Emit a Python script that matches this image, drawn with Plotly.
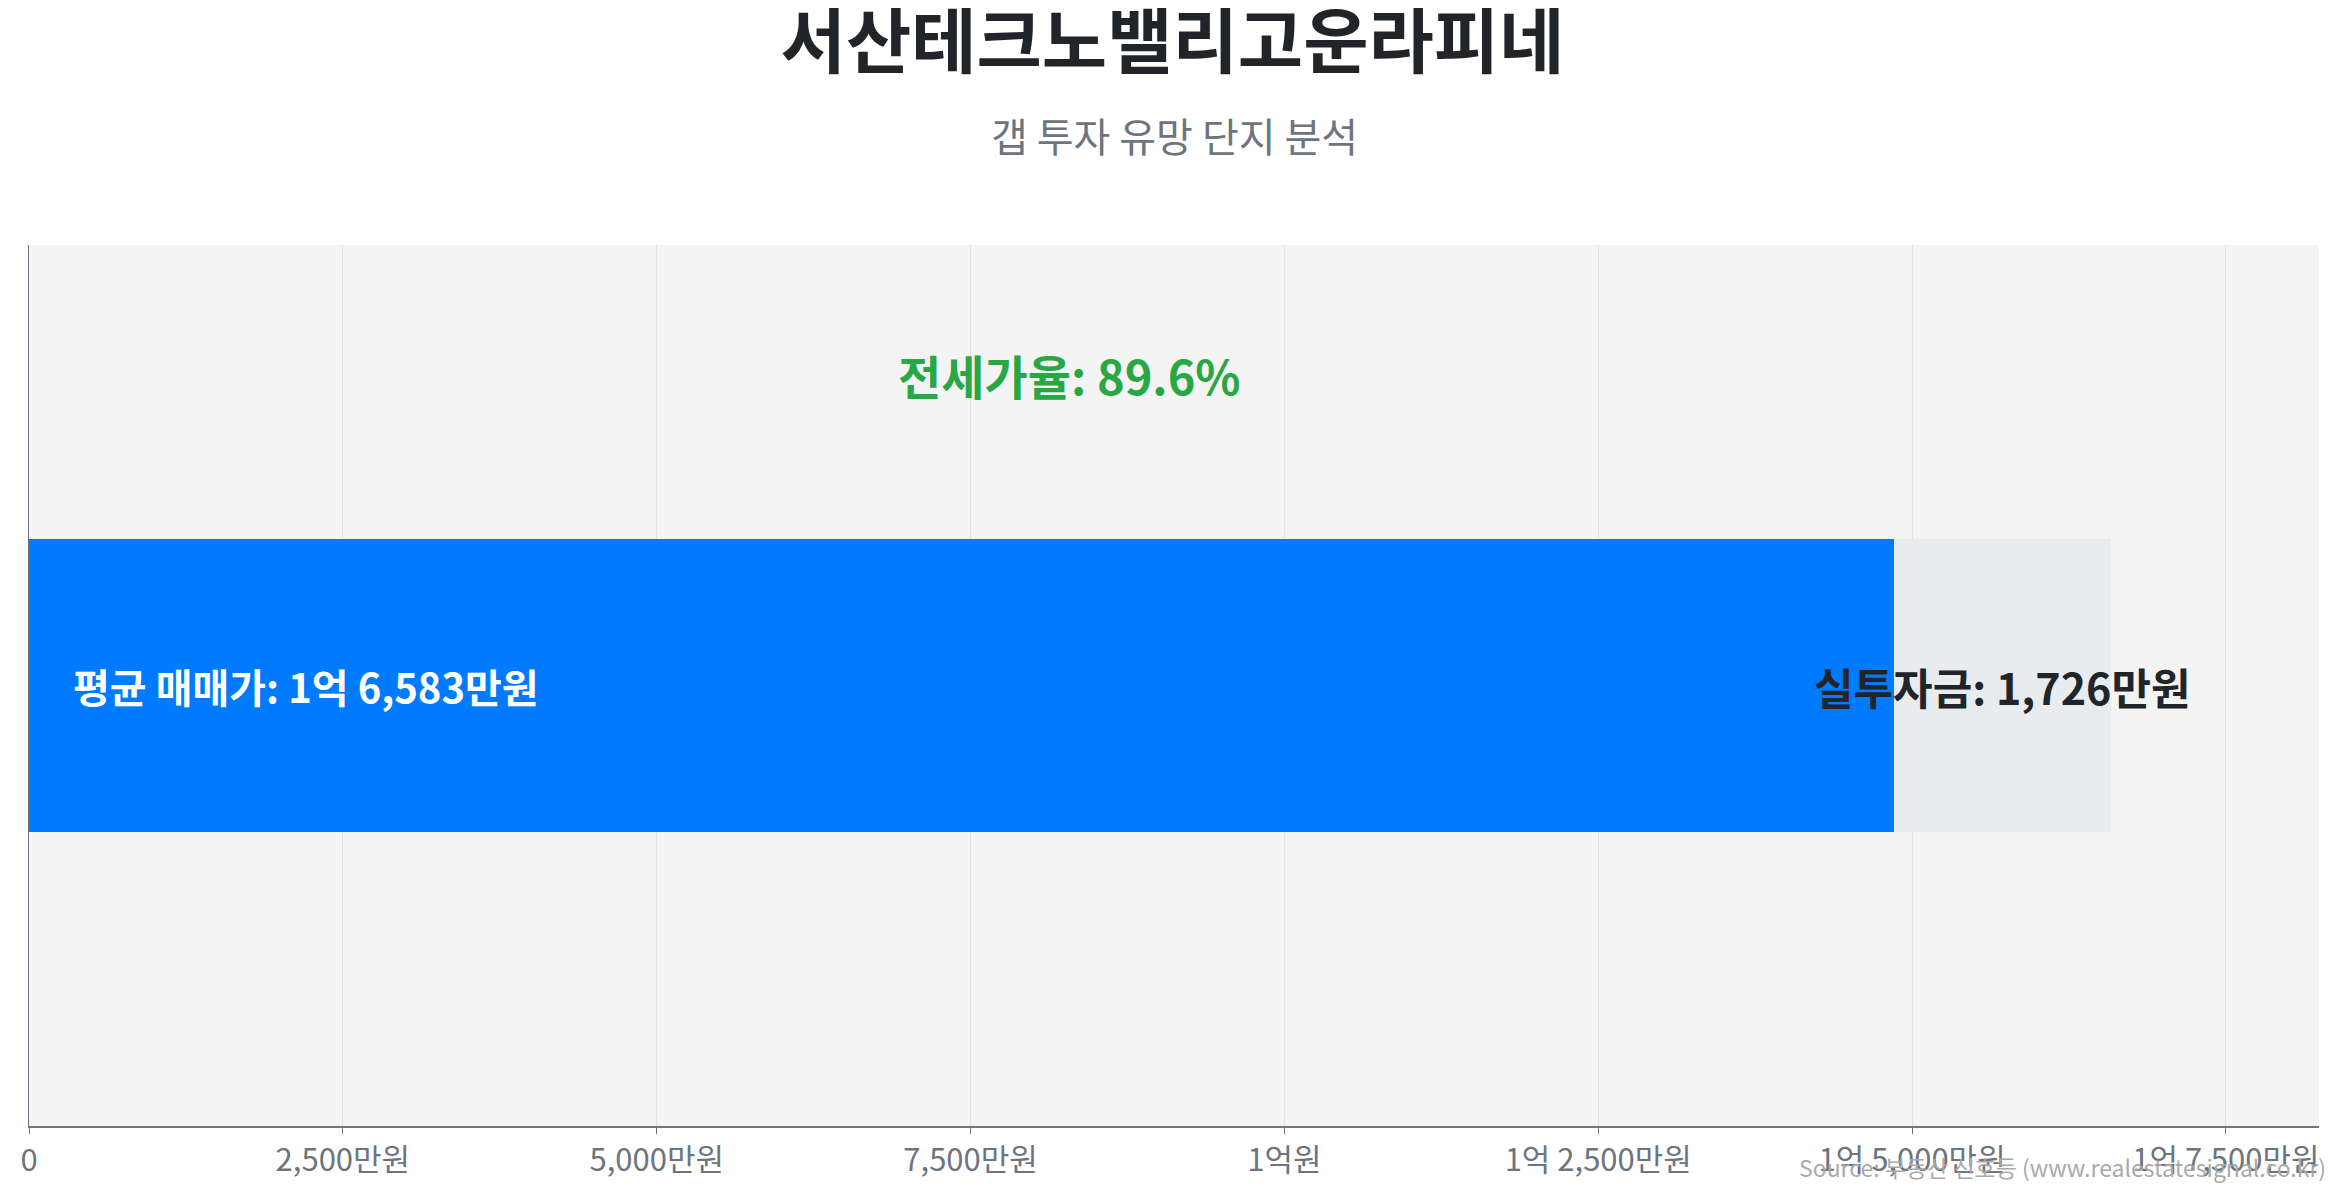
import plotly.graph_objects as go

# 단위: 만원
complex_names = ["서산테크노밸리고운라피네"]
avg_sale = [16583]
jeonse_price = [14857]
gap_invest = [1726]
jeonse_rate = [89.6]

tick_vals = [0, 2500, 5000, 7500, 10000, 12500, 15000, 17500]
tick_text = ["0", "2,500만원", "5,000만원", "7,500만원", "1억원",
             "1억 2,500만원", "1억 5,000만원", "1억 7,500만원"]

FONT = "Noto Sans CJK KR"


def fmt_manwon(v):
    eok, man = divmod(int(v), 10000)
    if eok and man:
        return f"{eok}억 {man:,}만원"
    if eok:
        return f"{eok}억원"
    return f"{man:,}만원"


fig = go.Figure()

# 전세가 (파란 막대) + 갭 (회색 막대) 누적
fig.add_trace(go.Bar(
    x=jeonse_price, y=[0], orientation="h", width=1,
    marker=dict(color="#007bff", line=dict(width=0)),
    hoverinfo="skip", showlegend=False,
))
fig.add_trace(go.Bar(
    x=gap_invest, y=[0], orientation="h", width=1,
    marker=dict(color="#e9ecef", line=dict(width=0)),
    hoverinfo="skip", showlegend=False,
))

total = avg_sale[0]

fig.add_annotation(
    x=total * 0.02, y=0, xanchor="left", yanchor="middle",
    text=f"평균 매매가: {fmt_manwon(total)}", showarrow=False,
    font=dict(family=FONT, size=40, color="white", weight="bold"),
)
fig.add_annotation(
    x=jeonse_price[0] + gap_invest[0] / 2, y=0, xanchor="center", yanchor="middle",
    text=f"실투자금: {fmt_manwon(gap_invest[0])}", showarrow=False,
    font=dict(family=FONT, size=43, color="#212529", weight="bold"),
)
fig.add_annotation(
    x=total / 2, y=1.06, xanchor="center", yanchor="middle",
    text=f"전세가율: {jeonse_rate[0]}%", showarrow=False,
    font=dict(family=FONT, size=47, color="#28a745", weight="bold"),
)

# 부제목, 출처
fig.add_annotation(
    x=0.5, y=1.125, xref="paper", yref="paper", yanchor="middle",
    text="갭 투자 유망 단지 분석", showarrow=False,
    font=dict(family=FONT, size=40, color="#6c757d"),
)
fig.add_annotation(
    x=1.004, y=-0.046, xref="paper", yref="paper", xanchor="right", yanchor="middle",
    text="Source: 부동산 신호등 (www.realestatesignal.co.kr)", showarrow=False,
    font=dict(family=FONT, size=23, color="#aaaaaa"),
)

fig.update_layout(
    width=2329, height=1184,
    barmode="stack",
    title=dict(
        text=complex_names[0], x=0.5, xanchor="center",
        y=1 - 34 / 1184, yanchor="middle",
        font=dict(family=FONT, size=71, color="#212529", weight="bold"),
    ),
    paper_bgcolor="white",
    plot_bgcolor="#f4f4f4",
    margin=dict(l=14, r=18, t=237, b=47),
    font=dict(family=FONT),
    xaxis=dict(
        range=[0, total * 1.1],
        tickvals=tick_vals, ticktext=tick_text,
        tickfont=dict(family=FONT, size=31, color="#6c757d"),
        showgrid=True, gridcolor="#e3e3e3", gridwidth=1,
        showline=True, linecolor="#6c757d", linewidth=2,
        ticks="outside", ticklen=6, tickcolor="#6c757d",
        zeroline=False,
    ),
    yaxis=dict(
        range=[-1.5, 1.5], showticklabels=False, showgrid=False,
        showline=True, linecolor="#6c757d", linewidth=1,
        zeroline=False, fixedrange=True,
    ),
)

fig.write_html("out.html")
